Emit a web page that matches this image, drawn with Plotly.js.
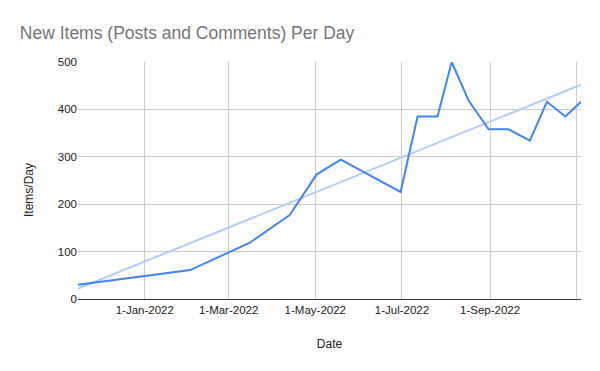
<!DOCTYPE html>
<html>
<head>
<meta charset="utf-8">
<script src="https://cdn.plot.ly/plotly-3.0.1.min.js"></script>
<style>html,body{margin:0;padding:0;background:#fff;}#chart{width:600px;height:371px;}</style>
</head>
<body>
<div id="chart"></div>
<script>
const dates = ["2021-11-15","2022-02-02","2022-03-16","2022-04-13","2022-05-02","2022-05-19","2022-06-30","2022-07-12","2022-07-26","2022-08-05","2022-08-17","2022-08-31","2022-09-14","2022-09-29","2022-10-11","2022-10-24","2022-11-04"];
const items = [30,61,119,177,263,294,226,385,385,500,418,358,358,334,416,385,416];
const trendDates = ["2021-11-15","2022-11-04"];
const trendValues = [22,452];
const tickVals = ["2022-01-01","2022-03-01","2022-05-01","2022-07-01","2022-09-01","2022-11-01"];
const tickText = ["1-Jan-2022","1-Mar-2022","1-May-2022","1-Jul-2022","1-Sep-2022",""];

const data = [
  {x: trendDates, y: trendValues, type: "scatter", mode: "lines", line: {color: "#b1cdfb", width: 2}, hoverinfo: "skip"},
  {x: dates, y: items, type: "scatter", mode: "lines", line: {color: "#4285f4", width: 2}}
];
const layout = {
  width: 600, height: 371,
  margin: {l: 78, r: 19, t: 62, b: 72},
  paper_bgcolor: "#fff", plot_bgcolor: "#fff",
  showlegend: false,
  font: {family: "Arial, 'Liberation Sans', sans-serif", size: 12, color: "#222"},
  title: {text: "New Items (Posts and Comments) Per Day", x: 0.033, xanchor: "left", y: 0.912, yanchor: "middle",
          font: {family: "Arial, 'Liberation Sans', sans-serif", size: 17.5, color: "#757575"}},
  xaxis: {
    type: "date", range: ["2021-11-15","2022-11-04"],
    tickmode: "array", tickvals: tickVals, ticktext: tickText,
    showgrid: true, gridcolor: "#cccccc", gridwidth: 1,
    showline: true, linecolor: "#333", linewidth: 1,
    zeroline: false, ticks: "", ticklen: 0,
    tickfont: {size: 11.5, color: "#222"},
    title: {text: "Date", font: {size: 12, color: "#222"}, standoff: 24}
  },
  yaxis: {
    range: [0, 500], tickvals: [0,100,200,300,400,500],
    showgrid: true, gridcolor: "#cccccc", gridwidth: 1,
    zeroline: false, showline: false, ticks: "",
    tickfont: {size: 11.5, color: "#222"}
  },
  annotations: [{
    text: "Items/Day", textangle: -90, showarrow: false,
    xref: "paper", yref: "paper",
    x: (29 - 78) / 503, y: (299 - 190) / 237,
    xanchor: "center", yanchor: "middle",
    font: {size: 12, color: "#222"}
  }]
};
Plotly.newPlot("chart", data, layout, {displayModeBar: false, staticPlot: true});
</script>
</body>
</html>
